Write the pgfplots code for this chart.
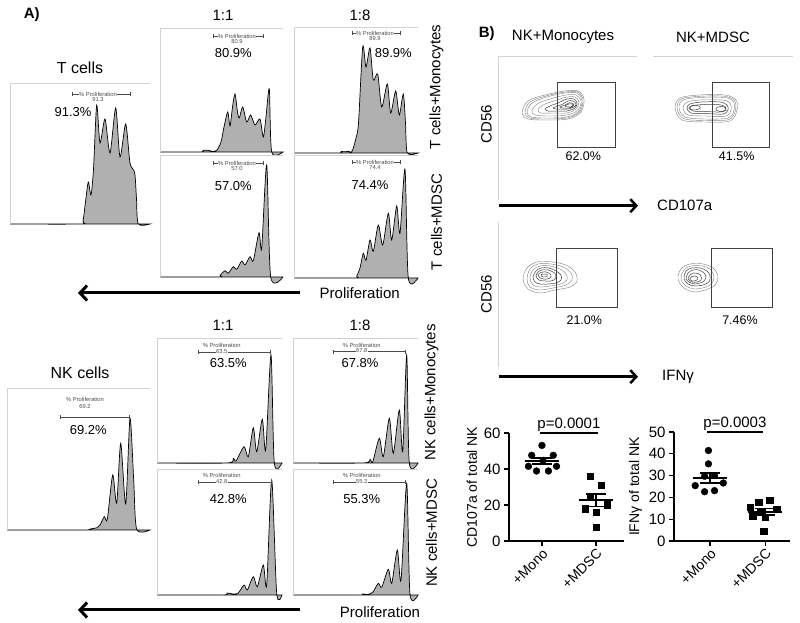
\documentclass[border=0pt]{standalone}
\usepackage{fontspec}
\setmainfont{Liberation Sans}
\usepackage{pgfplots}
\pgfplotsset{compat=1.18}
\usetikzlibrary{arrows.meta}
\newcommand{\fs}[1]{\fontsize{#1}{#1}\selectfont}
\colorlet{gatec}{black!70}
\pgfplotsset{
 histax/.style={scale only axis, hide axis, clip=false, anchor=south west, xmin=0, ymin=0},
 histfill/.style={fill=gray!62, draw=black, line width=0.7pt, smooth, tension=0.45},
 contax/.style={scale only axis, hide axis, clip=false, anchor=center, y dir=reverse},
 cont/.style={smooth cycle, tension=0.55, draw=black!50, line width=0.4pt},
 contd/.style={smooth cycle, tension=0.55, draw=black!75, line width=0.5pt},
 scatax/.style={scale only axis, anchor=south west, clip=false,
   axis x line*=bottom, axis y line*=left,
   axis line style={line width=1.3pt},
   tick style={black, line width=1.3pt}, major tick length=5pt, tick align=outside,
   xtick={1,2}, xticklabels={+Mono,+MDSC},
   xticklabel style={rotate=45, anchor=north east, font=\fs{14}, inner sep=1pt},
   yticklabel style={font=\fs{15}}, ylabel style={font=\fs{14}},
   /pgf/number format/assume math mode=true},
 meansem/.style={black, only marks, mark=-, mark size=17pt, mark options={line width=1.8pt},
   error bars/.cd, y dir=both, y explicit, error bar style={line width=1.5pt},
   error mark=|, error mark options={mark size=10pt, line width=1.5pt}},
}
\newcommand{\gateT}[5]{%
 \draw[gatec, {Bar[width=4pt]}-{Bar[width=4pt]}, line width=0.5pt] (axis cs:#1,#3) -- (axis cs:#2,#3);
 \node[font=\fs{5.8}, text=gatec, fill=white, inner sep=0.4pt] at (axis cs:#4,#3) {\% Proliferation};
 \node[font=\fs{5.8}, text=gatec, inner sep=0pt] at (axis cs:#4,#3-5.5) {#5};}
\newcommand{\gateN}[7]{%
 \draw[gatec, {Bar[width=4pt]}-{Bar[width=4pt]}, line width=0.5pt] (axis cs:#1,#3) -- (axis cs:#2,#3);
 \node[font=\fs{5.8}, text=gatec, inner sep=0pt] at (axis cs:#4,#5) {\% Proliferation};
 \node[font=\fs{5.8}, text=gatec, fill=white, inner sep=0.4pt] at (axis cs:#4,#6) {#7};}
\newcommand{\bord}[2]{\draw[gray!35, line width=0.6pt] (axis cs:0,0) -- (axis cs:0,#2) -- (axis cs:#1,#2);}
\begin{document}
\begin{tikzpicture}[x=1pt,y=1pt]
\useasboundingbox (0,0) rectangle (800,623);
% ---------------- Panel A : T cells ----------------
\begin{axis}[histax, at={(10pt,399pt)}, width=140pt, height=141pt, xmax=140, ymax=141]
\addplot[histfill] coordinates {(0,0) (70,0) (73,3) (75.5,22) (78.3,42) (81,29) (83.5,55) (86.7,119) (90,81) (95,105) (100,71) (105.7,116) (110,67) (115.7,100) (120,61) (124.7,51) (126.5,25) (128.3,0) (140,0)} \closedcycle;
\bord{140}{141}
\gateT{61.7}{120}{130}{88}{91.3}
\node[font=\fs{13}] at (axis cs:63,112) {91.3\%};
\end{axis}
\begin{axis}[histax, at={(160pt,471pt)}, width=123pt, height=124pt, xmax=123, ymax=124]
\addplot[histfill] coordinates {(0,0) (40,0) (43,1.5) (48,1.8) (53,0.5) (57,2) (61,10) (64,25) (67.7,40) (70,26) (72.5,45) (75,58) (77.5,40) (79.3,34) (82.7,45) (86.7,30) (90.7,37) (95,27) (100,33) (103.3,15) (106,35) (109.3,63) (111.7,0) (123,0)} \closedcycle;
\bord{123}{124}
\gateT{53.3}{103.3}{116}{77}{80.9}
\node[font=\fs{13}] at (axis cs:73.3,98.7) {80.9\%};
\end{axis}
\begin{axis}[histax, at={(160pt,346pt)}, width=123pt, height=122pt, xmax=123, ymax=122]
\addplot[histfill] coordinates {(0,0) (58,0) (60,1.7) (65,6.3) (68.3,3.7) (73.3,10.3) (76.7,7.7) (81.7,16) (85,12) (90,20.3) (93.3,16.3) (99,44.3) (101.7,28.7) (106.7,112) (110.7,0) (123,0)} \closedcycle;
\bord{123}{122}
\gateT{53.3}{103.3}{113.7}{77}{57.0}
\node[font=\fs{13}] at (axis cs:73.3,91) {57.0\%};
\end{axis}
\begin{axis}[histax, at={(294pt,470pt)}, width=124pt, height=126pt, xmax=124, ymax=126]
\addplot[histfill] coordinates {(0,0) (45,0) (47,1.5) (55,1.5) (57,0.5) (59,4) (62,15) (64.5,30) (68.7,106) (72,86) (76,105) (79.3,73) (83.7,79) (87.7,46) (93.3,69) (96.7,40) (101.7,62) (105.3,38) (109.3,59) (111.5,30) (113.3,0) (124,0)} \closedcycle;
\bord{124}{126}
\gateT{57.7}{106}{119.7}{81}{89.9}
\node[font=\fs{13}] at (axis cs:99.3,99.7) {89.9\%};
\end{axis}
\begin{axis}[histax, at={(294pt,345pt)}, width=124pt, height=123pt, xmax=124, ymax=123]
\addplot[histfill] coordinates {(0,0) (60,0) (62.7,2) (66,10) (69.3,24.7) (72,17.7) (76,38) (79.3,26.7) (84.3,53) (88.7,33) (94.3,64.7) (97.7,38) (102.7,72) (106,44.7) (111,108.7) (114.3,0) (124,0)} \closedcycle;
\bord{124}{123}
\gateT{57.7}{106}{115.7}{81}{74.4}
\node[font=\fs{13}] at (axis cs:76,93) {74.4\%};
\end{axis}
% ---------------- Panel A : NK cells ----------------
\begin{axis}[histax, at={(7pt,93pt)}, width=143pt, height=142pt, xmax=143, ymax=142]
\addplot[histfill] coordinates {(0,0) (76,0) (83,1) (90,2.3) (93,5) (97.3,13.3) (100.3,10.7) (105.7,55) (109.7,26.7) (113.7,86.7) (118.7,26) (123,111.7) (126.7,50) (129.7,0.7) (143,0)} \closedcycle;
\bord{143}{142}
\gateN{53}{122.3}{112.7}{78}{131}{123}{69.2}
\node[font=\fs{13}] at (axis cs:81.3,100) {69.2\%};
\end{axis}
\begin{axis}[histax, at={(157pt,160pt)}, width=125pt, height=125pt, xmax=125, ymax=125]
\addplot[histfill] coordinates {(0,0) (70,0) (76.3,4.7) (79,2) (87,16.3) (91.3,6.3) (96.3,35.3) (99.7,11.3) (105.3,43.7) (108.7,13) (114,108) (117.3,0) (125,0)} \closedcycle;
\bord{125}{125}
\gateN{41.3}{113}{110.7}{64.7}{118}{111}{63.5}
\node[font=\fs{13}] at (axis cs:71.3,99.7) {63.5\%};
\end{axis}
\begin{axis}[histax, at={(157pt,28pt)}, width=125pt, height=126pt, xmax=125, ymax=126]
\addplot[histfill] coordinates {(0,0) (65,0) (70,2) (76,1) (81,1.7) (87,10) (90.3,5) (96.3,18.3) (100.3,8.3) (106.3,30) (109.7,10) (114.7,115) (119.7,1.7) (125,0)} \closedcycle;
\bord{125}{126}
\gateN{41.3}{114.7}{112.7}{64.7}{119.5}{113}{42.8}
\node[font=\fs{13}] at (axis cs:71.3,96) {42.8\%};
\end{axis}
\begin{axis}[histax, at={(293pt,160pt)}, width=125pt, height=125pt, xmax=125, ymax=125]
\addplot[histfill] coordinates {(0,0) (70,0) (77,3.7) (79.7,1) (86.3,24.7) (90.3,6.3) (96.3,44.7) (100.3,9.7) (106.3,53) (109.7,11.3) (113.7,108) (116.3,0) (125,0)} \closedcycle;
\bord{125}{125}
\gateN{39.7}{112}{111.3}{68.7}{118}{112}{67.8}
\node[font=\fs{13}] at (axis cs:67,100.3) {67.8\%};
\end{axis}
\begin{axis}[histax, at={(293pt,28pt)}, width=125pt, height=126pt, xmax=125, ymax=126]
\addplot[histfill] coordinates {(0,0) (65,0) (70,1) (75,0.5) (80,3) (85.3,11.7) (88.7,7.7) (95.3,25.7) (98.7,11.7) (104.3,45) (108,15) (113.7,111.7) (117,0.7) (125,0)} \closedcycle;
\bord{125}{126}
\gateN{39.7}{112}{112.7}{68.7}{119.5}{113}{55.3}
\node[font=\fs{13}] at (axis cs:68.7,95.7) {55.3\%};
\end{axis}
% titles & arrows panel A
\node[font=\bfseries\fs{15}] at (31.7,608) {A)};
\node[font=\fs{15}] at (223,608) {1:1};
\node[font=\fs{15}] at (360,608) {1:8};
\node[font=\fs{16}] at (80,555) {T cells};
\node[font=\fs{15}] at (223,298) {1:1};
\node[font=\fs{15}] at (360,298) {1:8};
\node[font=\fs{16}] at (80,250) {NK cells};
\node[font=\fs{15}, rotate=90] at (436.5,536) {T cells+Monocytes};
\node[font=\fs{15}, rotate=90] at (436.5,401) {T cells+MDSC};
\node[font=\fs{15}, rotate=90] at (431.5,230.5) {NK cells+Monocytes};
\node[font=\fs{15}, rotate=90] at (431.5,90) {NK cells+MDSC};
\draw[line width=3pt, -{Straight Barb[length=7pt, width=15pt]}] (300,330) -- (78,330);
\draw[line width=3pt, -{Straight Barb[length=7pt, width=15pt]}] (300,13) -- (78,13);
\node[font=\fs{15}] at (359.7,330) {Proliferation};
\node[font=\fs{15}] at (380,11) {Proliferation};
% ---------------- Panel B : contours ----------------
\begin{axis}[contax, at={(569pt,495pt)}, width=142pt, height=144pt, xmin=498, xmax=640, ymin=56, ymax=200]
\draw[gray!35, line width=0.6pt] (axis cs:637,56) -- (axis cs:498,56) -- (axis cs:498,200);
\addplot[cont] coordinates {(522,113) (528,101) (545,95) (565,91) (578,91) (584,99) (581,112) (568,119) (545,120) (528,119)};
\addplot[cont] coordinates {(525,112.5) (530,102) (546,96) (565,92) (577.5,92) (583,99.5) (580,111.5) (567.5,118) (545.5,119) (529.5,118)};
\addplot[cont] coordinates {(527,112) (532,103) (547,97) (565,93) (577,93) (582,100) (579,111) (567,117) (546,118) (531,117)};
\addplot[cont] coordinates {(532,111) (537,104) (550,99) (566,95) (576,95) (581,101) (578,110) (567,115) (549,116) (535,115)};
\addplot[cont] coordinates {(538,110) (543,105) (554,101) (567,97) (575,97) (579,102) (576,109) (567,113) (553,113) (541,113)};
\addplot[contd] coordinates {(545,109) (550,106) (558,103) (567,99) (574,99) (577,103) (575,108) (567,111) (557,111) (548,111)};
\addplot[contd] coordinates {(553,108) (558,106) (563,104) (568,101) (573,101) (576,104) (574,107) (568,109) (561,109) (556,109)};
\addplot[contd] coordinates {(560,107) (565,105) (569,103) (572,103) (574,105) (572,107) (568,108) (563,108)};
\addplot[contd] coordinates {(565,106) (569,104) (572,104) (573,106) (570,107) (567,107)};
\draw[black!75, line width=0.8pt] (axis cs:557,82) rectangle (axis cs:615,147);
\node[font=\fs{12.5}] at (axis cs:583.3,156.7) {62.0\%};
\end{axis}
\begin{axis}[contax, at={(723pt,495pt)}, width=140pt, height=144pt, xmin=653, xmax=793, ymin=56, ymax=200]
\draw[gray!35, line width=0.6pt] (axis cs:653,56) -- (axis cs:793,56);
\addplot[cont] coordinates {(675,108) (680,98) (700,95) (725,95) (736,100) (737,110) (730,121) (705,122) (682,120)};
\addplot[cont] coordinates {(677,108) (681.5,99) (700,96.3) (724.5,96.3) (734.5,100.5) (735.5,110) (729,119.5) (705,120.5) (683.5,118.5)};
\addplot[cont] coordinates {(679,108) (683,100) (700,97.5) (724,97.5) (733,101) (734,110) (728,118) (705,119) (685,117)};
\addplot[cont] coordinates {(683,108) (687,102) (700,100) (722,100) (730,103) (731,110) (726,116) (705,116) (688,115)};
\addplot[contd] coordinates {(687,108) (690,104) (702,102) (720,102) (727,105) (728,110) (723,114) (705,113.5) (691,113)};
\addplot[contd] coordinates {(690,108) (693,105.5) (705,104.5) (718,104.5) (725,106.5) (725,110) (720,112) (705,111.5) (693,111)};
\addplot[contd] coordinates {(689,107.5) (693,105.5) (699,106) (700,108.5) (695,110) (690,109.5)};
\addplot[contd] coordinates {(716,108.5) (720,106.5) (725,107.5) (726,110.5) (721,111.5) (717,110.5)};
\draw[black!75, line width=0.8pt] (axis cs:712,82) rectangle (axis cs:769,147);
\node[font=\fs{12.5}] at (axis cs:736.7,156.7) {41.5\%};
\end{axis}
\begin{axis}[contax, at={(569pt,328.5pt)}, width=142pt, height=145pt, xmin=498, xmax=640, ymin=222, ymax=367]
\draw[gray!35, line width=0.6pt] (axis cs:498,222) -- (axis cs:498,367);
\addplot[cont] coordinates {(523,279) (527,268) (537,262) (552,262) (566,265) (575,272) (577,281) (570,287) (555,290) (540,293) (528,289)};
\addplot[cont] coordinates {(527,279) (530,269) (538,264) (551,264) (563,267) (571,273) (572,280) (566,285) (553,288) (540,290) (530,287)};
\addplot[cont] coordinates {(530,278) (533,270) (540,266) (550,266) (560,269) (566,274) (567,280) (561,284) (550,286) (540,287) (533,285)};
\addplot[contd] coordinates {(533,277) (536,271) (541,268) (549,268) (556,271) (561,275) (561,280) (556,283) (548,284) (540,284) (535,282)};
\addplot[contd] coordinates {(536,276) (538,272) (542,270) (548,270) (553,272) (556,275) (555,279) (551,281) (545,281) (539,280)};
\addplot[contd] coordinates {(538,275) (541,272.5) (546,272) (550,274) (551,277) (547,279) (541,278.5)};
\addplot[contd] coordinates {(541,275) (543,274) (547,274.5) (547,276.5) (543,277)};
\draw[black!75, line width=0.8pt] (axis cs:556,248) rectangle (axis cs:617,307);
\node[font=\fs{12.5}] at (axis cs:584.3,320) {21.0\%};
\end{axis}
\begin{axis}[contax, at={(723pt,328.5pt)}, width=140pt, height=145pt, xmin=653, xmax=793, ymin=222, ymax=367]
\addplot[cont] coordinates {(678,279) (681,269) (690,264) (703,264) (713,268) (718,276) (716,284) (708,289) (695,292) (684,288)};
\addplot[cont] coordinates {(681,279) (684,270) (691,266) (702,266) (710,269) (714,276) (712,283) (706,287) (695,289) (686,286)};
\addplot[contd] coordinates {(684,279) (686,271) (692,268) (700,268) (707,271) (710,276) (709,282) (703,285) (695,286) (688,284)};
\addplot[contd] coordinates {(686,279) (688,273) (693,270) (699,270) (704,273) (706,277) (704,281) (700,283) (694,284) (689,282)};
\addplot[contd] coordinates {(688,279) (690,275) (694,273) (698,273.5) (701,276) (701,280) (697,282) (692,282)};
\addplot[contd] coordinates {(690,279) (692,276.5) (695,276) (698,278) (696,280.5) (692,281)};
\draw[black!75, line width=0.8pt] (axis cs:711,248) rectangle (axis cs:772,307);
\node[font=\fs{12.5}] at (axis cs:740,320) {7.46\%};
\end{axis}
\node[font=\bfseries\fs{15}] at (486.7,589.7) {B)};
\node[font=\fs{15}] at (563,586) {NK+Monocytes};
\node[font=\fs{15}] at (713,586) {NK+MDSC};
\node[font=\fs{15}, rotate=90] at (486.5,499) {CD56};
\node[font=\fs{15}, rotate=90] at (486.5,329) {CD56};
\draw[line width=2.5pt, -{Straight Barb[length=6pt, width=13pt]}] (499,417.3) -- (638,417.3);
\draw[line width=2.5pt, -{Straight Barb[length=6pt, width=13pt]}] (499,246.3) -- (638,246.3);
\node[font=\fs{15}] at (684.7,417.3) {CD107a};
\node[font=\fs{15}] at (678,246.3) {IFNγ};
% ---------------- Panel B : scatter ----------------
\begin{axis}[scatax, at={(509pt,82pt)}, width=115pt, height=108pt, xmin=0.39, xmax=2.52, ymin=0, ymax=60, ytick={0,20,40,60}, ylabel={CD107a of total NK}]
\addplot[only marks, mark=*, mark size=3.4pt, black] coordinates {(1.0,53.1) (0.81,47.6) (1.21,47.6) (1.02,44.8) (0.75,41.5) (1.27,41.5) (0.90,38.9) (1.12,38.9)};
\addplot[only marks, mark=square*, mark size=3.2pt, black] coordinates {(1.89,35.9) (2.10,30.9) (1.89,24.8) (2.21,20.2) (1.80,18.0) (2.01,16.1) (2.01,7.8)};
\addplot[meansem] coordinates {(1,44.4) +- (0,1.6) (2,22.6) +- (0,3.5)};
\draw[line width=1.2pt] (axis cs:0.96,60) -- (axis cs:2.04,60);
\node[font=\fs{15}, anchor=south, inner sep=1.5pt] at (axis cs:1.5,60) {p=0.0001};
\end{axis}
\begin{axis}[scatax, at={(674pt,82pt)}, width=116pt, height=109pt, xmin=0.345, xmax=2.45, ymin=0, ymax=50, ytick={0,10,20,30,40,50}, ylabel={IFNγ of total NK}]
\addplot[only marks, mark=*, mark size=3.4pt, black] coordinates {(0.97,41.5) (0.97,35.4) (0.90,29.7) (1.08,30.0) (0.73,25.4) (1.24,26.6) (0.90,22.6) (1.08,23.1)};
\addplot[only marks, mark=square*, mark size=3.2pt, black] coordinates {(1.88,17.7) (2.08,18.8) (1.73,15.4) (1.91,13.8) (2.21,14.6) (1.77,11.5) (2.0,10.8) (1.97,4.6)};
\addplot[meansem] coordinates {(1,28.9) +- (0,2.3) (2,13.4) +- (0,1.5)};
\draw[line width=1.2pt] (axis cs:0.95,50) -- (axis cs:1.96,50);
\node[font=\fs{15}, anchor=south, inner sep=1.5pt] at (axis cs:1.45,50) {p=0.0003};
\end{axis}
\end{tikzpicture}
\end{document}
